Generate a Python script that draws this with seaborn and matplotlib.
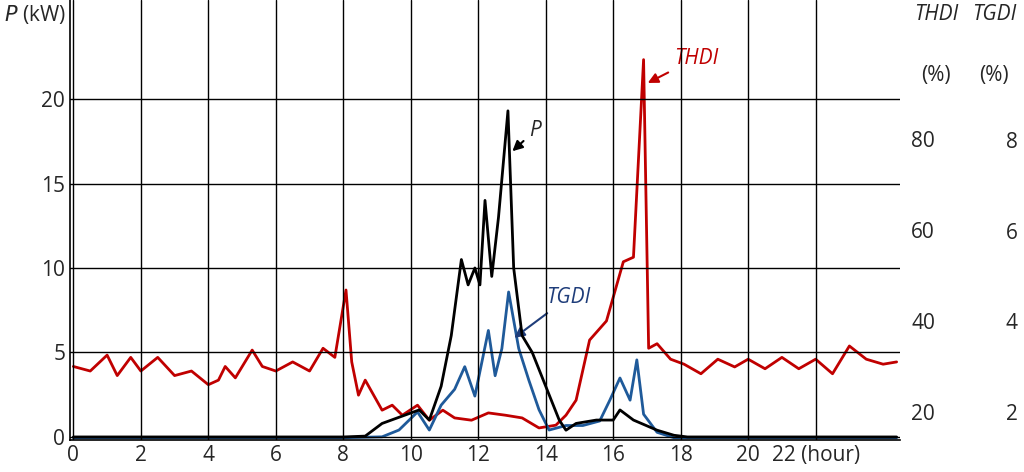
import numpy as np
import matplotlib
matplotlib.use("Agg")
import matplotlib.pyplot as plt
import seaborn as sns

sns.set_style("white")
plt.rcParams['font.family'] = ['Open Sans', 'DejaVu Sans']

# data (hour, value)
p_hour = [0,2,4,6,8,8.65,9.15,9.7,10.25,10.55,10.9,11.2,11.5,11.7,11.9,12.05,12.2,12.4,12.6,12.88,13.05,13.3,13.6,14.1,14.4,14.6,14.9,15.5,16.0,16.2,16.6,17.3,17.8,18.2,20,22,24.4]
p_kw   = [0,0,0,0,0,0.05,0.8,1.2,1.6,1.0,3.0,6.0,10.5,9.0,10.0,9.0,14.0,9.5,13.0,19.3,10.0,6.0,5.0,2.5,1.0,0.4,0.8,1.0,1.0,1.6,1.0,0.4,0.1,0,0,0,0]

thdi_hour = [0,0.5,1,1.3,1.7,2,2.5,3,3.5,4,4.3,4.5,4.8,5.3,5.6,6,6.5,7,7.4,7.75,8.08,8.25,8.45,8.65,9.15,9.45,9.75,10.2,10.55,10.95,11.3,11.8,12.3,12.8,13.3,13.8,14.3,14.6,14.9,15.3,15.8,16.3,16.6,16.9,17.05,17.3,17.7,18.1,18.6,19.1,19.6,20,20.5,21,21.5,22,22.5,23,23.5,24,24.4]
thdi_pct  = [30,29,32.5,28,32,29,32,28,29,26,27,30,27.5,33.6,30,29,31,29,34,32,46.8,31,23.7,27,20.4,21.5,19.3,21.5,18.2,20.4,18.7,18.2,19.8,19.3,18.7,16.5,17.1,19.3,22.6,35.8,40,53,54,97.4,34,35,31.6,30.5,28.4,31.6,29.9,31.6,29.5,32,29.5,31.6,28.4,34.5,31.6,30.5,31]

tgdi_hour = [0,2,4,6,8,9.15,9.65,10.2,10.55,10.9,11.3,11.6,11.9,12.3,12.5,12.7,12.9,13.2,13.5,13.8,14.1,14.6,15.1,15.6,15.9,16.2,16.5,16.7,16.9,17.3,17.8,20,24.4]
tgdi_pct  = [1.43,1.43,1.43,1.43,1.43,1.45,1.6,2.0,1.6,2.15,2.5,3.0,2.35,3.8,2.8,3.4,4.65,3.4,2.7,2.05,1.6,1.7,1.7,1.8,2.26,2.75,2.26,3.15,1.95,1.55,1.43,1.43,1.43]

fig = plt.figure(figsize=(10.24, 4.72), dpi=100)
ax = fig.add_axes([70/1024, 32/472, 830/1024, 440/472])
ax.set_xlim(-0.1, 24.5)
ax.set_ylim(-0.18, 25.86)
ax.set_xticks(range(0, 24, 2))
ax.set_xticklabels([str(h) for h in range(0, 22, 2)] + ["22 (hour)"], fontsize=15)
ax.set_yticks([0, 5, 10, 15, 20])
ax.tick_params(labelsize=15, length=0)
ax.grid(True, color="black", lw=1)
for s in ["top", "right"]:
    ax.spines[s].set_visible(False)
for s in ["left", "bottom"]:
    ax.spines[s].set_color("black")
    ax.spines[s].set_linewidth(1.2)

ax2 = ax.twinx()
ax2.set_ylim(13.85, 110.5)
ax3 = ax.twinx()
ax3.set_ylim(1.38, 11.1)
for a, ticks, pad in [(ax2, [20, 40, 60, 80], 8), (ax3, [2, 4, 6, 8], 76)]:
    for s in a.spines.values():
        s.set_visible(False)
    a.set_yticks(ticks)
    a.tick_params(length=0, labelsize=15, pad=pad)
    a.grid(False)

sns.lineplot(x=thdi_hour, y=thdi_pct, ax=ax2, color="#c00000", lw=2)
sns.lineplot(x=tgdi_hour, y=tgdi_pct, ax=ax3, color="#1f5a9a", lw=2)
sns.lineplot(x=p_hour, y=p_kw, ax=ax, color="black", lw=2)
ax.set_zorder(3); ax.patch.set_visible(False)

ax.annotate("P", xy=(12.95, 16.8), xytext=(13.5, 17.8), fontsize=15, style="italic",
            arrowprops=dict(arrowstyle="-|>", color="black", lw=1.5))
ax2.annotate("THDI", xy=(16.95, 92), xytext=(17.8, 96.5), fontsize=15, style="italic", color="#c00000",
             arrowprops=dict(arrowstyle="-|>", color="#c00000", lw=1.5))
ax3.annotate("TGDI", xy=(13.0, 3.6), xytext=(14.0, 4.4), fontsize=15, style="italic", color="#1f3d7a",
             arrowprops=dict(arrowstyle="-|>", color="#1f3d7a", lw=1.5))

fig.text(4/1024, 1 - 14/472, "$P$ (kW)", fontsize=15, va="center")
for x, t in [(936, "THDI"), (994, "TGDI")]:
    fig.text(x/1024, 1 - 14/472, t, fontsize=15, style="italic", ha="center", va="center")
    fig.text(x/1024, 1 - 76/472, "(%)", fontsize=15, ha="center", va="center")

fig.savefig("out.png", dpi=100)
